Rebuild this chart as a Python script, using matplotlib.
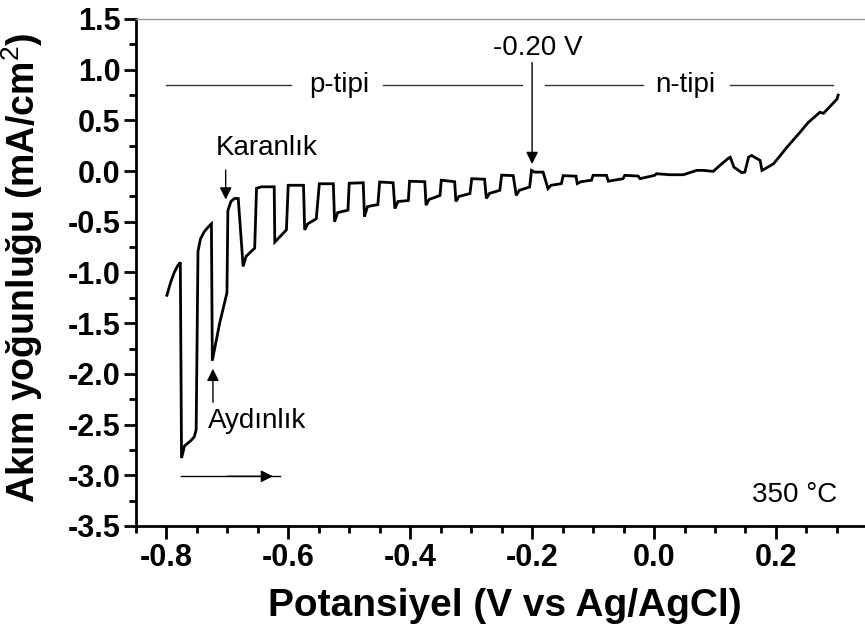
import numpy as np
import matplotlib
matplotlib.use("Agg")
import matplotlib.pyplot as plt
from matplotlib.ticker import MultipleLocator

plt.rcParams['font.family'] = ['Liberation Sans', 'DejaVu Sans']
plt.rcParams['mathtext.fontset'] = 'custom'
plt.rcParams['mathtext.rm'] = 'Liberation Sans'

# potential (V vs Ag/AgCl) and current density (mA/cm2)
potential = [-0.799, -0.793, -0.787, -0.781, -0.777, -0.775, -0.770, -0.760, -0.754, -0.751,
             -0.748, -0.744, -0.738, -0.731, -0.726, -0.7245, -0.7125, -0.7005, -0.699, -0.694,
             -0.688, -0.682, -0.674, -0.669, -0.655, -0.652, -0.644, -0.623, -0.622, -0.603,
             -0.600, -0.575, -0.573, -0.568, -0.554, -0.549, -0.526, -0.524, -0.519, -0.502,
             -0.500, -0.477, -0.475, -0.470, -0.453, -0.450, -0.428, -0.425, -0.420, -0.403,
             -0.401, -0.376, -0.374, -0.369, -0.351, -0.349, -0.327, -0.325, -0.320, -0.302,
             -0.299, -0.278, -0.275, -0.270, -0.253, -0.250, -0.231, -0.226, -0.221, -0.204,
             -0.201, -0.196, -0.182, -0.174, -0.169, -0.152, -0.149, -0.128, -0.126, -0.120,
             -0.1025, -0.100, -0.078, -0.075, -0.051, -0.048, -0.026, -0.023, 0.001, 0.004,
             0.026, 0.048, 0.070, 0.081, 0.097, 0.108, 0.122, 0.125, 0.131, 0.144,
             0.149, 0.155, 0.160, 0.174, 0.177, 0.182, 0.196, 0.218, 0.239, 0.253,
             0.272, 0.278, 0.300, 0.302]
current = [-1.225, -1.10, -1.00, -0.93, -0.90, -2.83, -2.71, -2.66, -2.62, -2.55,
           -0.79, -0.67, -0.60, -0.55, -0.52, -1.87, -1.50, -1.20, -0.39, -0.30,
           -0.27, -0.27, -0.94, -0.84, -0.76, -0.17, -0.155, -0.155, -0.70, -0.58,
           -0.14, -0.14, -0.58, -0.52, -0.47, -0.125, -0.125, -0.50, -0.41, -0.385,
           -0.12, -0.115, -0.45, -0.35, -0.33, -0.108, -0.115, -0.37, -0.30, -0.29,
           -0.10, -0.105, -0.336, -0.28, -0.24, -0.09, -0.105, -0.30, -0.25, -0.222,
           -0.075, -0.08, -0.27, -0.22, -0.19, -0.04, -0.045, -0.24, -0.19, -0.157,
           0.007, -0.01, -0.01, -0.173, -0.14, -0.124, -0.045, -0.05, -0.124, -0.105,
           -0.09, -0.042, -0.042, -0.10, -0.075, -0.042, -0.049, -0.075, -0.042, -0.026,
           -0.036, -0.036, 0.007, 0.007, -0.003, 0.056, 0.127, 0.137, 0.039, -0.016,
           -0.01, 0.137, 0.154, 0.105, 0.007, 0.023, 0.072, 0.235, 0.38, 0.48,
           0.58, 0.57, 0.71, 0.75]

fig = plt.figure(figsize=(8.65, 6.29), dpi=100)
ax = fig.add_axes([0.157, 0.1638, 0.843, 0.806])

ax.plot(potential, current, color='black', lw=2, solid_joinstyle='miter')

ax.set_xlim(-0.85, 0.346)
ax.set_ylim(-3.5, 1.5)
ax.xaxis.set_major_locator(MultipleLocator(0.2))
ax.xaxis.set_minor_locator(MultipleLocator(0.05))
ax.yaxis.set_major_locator(MultipleLocator(0.5))
ax.yaxis.set_minor_locator(MultipleLocator(0.25))
fmt = plt.FuncFormatter(lambda v, p: f"{v:.1f}".replace("-0.0", "0.0"))
ax.xaxis.set_major_formatter(fmt)
ax.yaxis.set_major_formatter(fmt)

ax.spines['right'].set_visible(False)
ax.spines['top'].set_color('#999999')
ax.spines['top'].set_linewidth(1)
for s in ['left', 'bottom']:
    ax.spines[s].set_linewidth(2)

ax.tick_params(which='major', direction='out', length=9, width=2, pad=3,
               labelsize=22, top=False, right=False)
ax.tick_params(which='minor', direction='out', length=5, width=2, top=False, right=False)
ax.tick_params(axis='y', pad=2)
for lab in ax.get_xticklabels() + ax.get_yticklabels():
    lab.set_fontweight('bold')

ax.set_xlabel('Potansiyel (V vs Ag/AgCl)', fontsize=28, fontweight='bold')
ax.set_ylabel('Akım yoğunluğu (mA/cm$^2$)', fontsize=27, fontweight='bold')
ax.xaxis.set_label_coords(0.506, -0.122)
ax.yaxis.set_label_coords(-0.125, 0.51)

# type regions
line_y = 0.846
seg_kw = dict(color='#333333', lw=1)
ax.plot([-0.80, -0.595], [line_y, line_y], **seg_kw)
ax.plot([-0.444, -0.217], [line_y, line_y], **seg_kw)
ax.plot([-0.179, -0.018], [line_y, line_y], **seg_kw)
ax.plot([0.124, 0.294], [line_y, line_y], **seg_kw)
ax.text(-0.516, line_y, 'p-tipi', fontsize=20, ha='center', va='center')
ax.text(0.051, line_y, 'n-tipi', fontsize=20, ha='center', va='center')

ax.text(-0.19, 1.216, '-0.20 V', fontsize=20, ha='center', va='center')
arrow_kw = dict(arrowstyle='-|>', color='black', lw=1, mutation_scale=18, shrinkA=0, shrinkB=0)
ax.annotate('', xy=(-0.2, 0.07), xytext=(-0.2, 1.07), arrowprops=arrow_kw)

ax.text(-0.635, 0.225, 'Karanlık', fontsize=20, ha='center', va='center')
ax.annotate('', xy=(-0.7026, -0.28), xytext=(-0.7026, 0.01), arrowprops=arrow_kw)

ax.text(-0.651, -2.46, 'Aydınlık', fontsize=20, ha='center', va='center')
ax.annotate('', xy=(-0.7235, -1.95), xytext=(-0.7235, -2.28), arrowprops=arrow_kw)

ax.plot([-0.776, -0.614], [-3.01, -3.01], color='black', lw=1)
ax.annotate('', xy=(-0.625, -3.01), xytext=(-0.70, -3.01), arrowprops=arrow_kw)

ax.text(0.231, -3.196, '350 °C', fontsize=20, ha='center', va='center')

fig.savefig('out.png', dpi=100)
